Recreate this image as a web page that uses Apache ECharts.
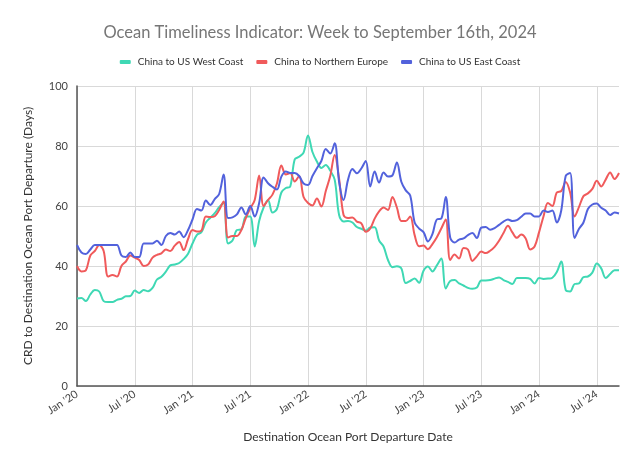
<!DOCTYPE html>
<html>
<head>
<meta charset="utf-8">
<script src="https://cdn.jsdelivr.net/npm/echarts@6/dist/echarts.min.js"></script>
<style>
  html, body { margin: 0; padding: 0; background: #fff; }
  #chart { width: 640px; height: 468px; }
</style>
</head>
<body>
<div id="chart"></div>
<script>
// fortnightly points, first one on 6 Jan 2020
const startDate = Date.UTC(2020, 0, 6);
const pointCount = 123;
const monthNames = ["Jan", "Feb", "Mar", "Apr", "May", "Jun", "Jul", "Aug", "Sep", "Oct", "Nov", "Dec"];
const labelMonths = [0, 6];

const yTicks = { min: 0, max: 100, interval: 20 };

const seriesNames = ["China to US West Coast", "China to Northern Europe", "China to US East Coast"];

const westCoast = [
  29.2, 29.3, 28.3, 30.5, 32, 31.5, 28.3, 28, 28, 28.7,
  29.1, 29.9, 30, 31.8, 31, 32, 31.6, 32.7, 35.5, 36.4,
  38.1, 40.2, 40.5, 41, 42.3, 44.1, 47.5, 50.4, 51.3, 54.5,
  56.1, 57.6, 59.6, 61, 47.5, 48.5, 52, 52.2, 56.5, 56.5,
  46.5, 55, 59.5, 62, 57.8, 59, 64.5, 66, 66.5, 75.5,
  76.4, 77.8, 83.5, 78, 74.8, 72.7, 73.7, 71.8, 68.8, 57,
  54.8, 55, 54.5, 53, 52.4, 51.8, 52.8, 52.9, 48.5, 46.5,
  42, 39.6, 39.9, 39.2, 34.3, 35, 35.8, 34.4, 38.4, 39.8,
  38.2, 40.2, 42.5, 32.5, 35, 35.3, 34.2, 33.5, 32.7, 32.4,
  32.8, 35.2, 35.2, 35.3, 35.8, 36.2, 35.3, 34.7, 34, 36,
  36, 36, 35.7, 34.2, 36, 35.7, 35.8, 36.1, 38, 41.5,
  32, 31.5, 34, 34.2, 36.3, 36.5, 37.8, 40.8, 39.2, 36,
  37.3, 38.6, 38.6
];

const northernEurope = [
  40, 38.2, 38.6, 43.5, 45, 47, 45, 36.5, 37, 36.5,
  40, 41.5, 43.5, 42.8, 42, 40, 40.5, 42.8, 43.7, 44.2,
  45.5, 45, 46.8, 48, 45.3, 49, 52, 51.5, 51.8, 56.5,
  56.3, 56.6, 58.7, 61.5, 49.5, 50, 50, 52, 56, 59.2,
  62, 70.2, 60, 62, 63.8, 67.5, 73.5, 70.5, 71, 68.2,
  70, 63, 61, 60.2, 62.5, 59.8, 65, 70, 77, 69,
  57, 56, 56.2, 54.8, 54.2, 51.4, 52.5, 55.8, 58.2, 59.5,
  58.7, 63, 59.5, 55, 55, 56.5, 50.3, 46.6, 46.8, 45.6,
  47.3, 49.6, 52.5, 55.5, 42, 43.8, 42.5, 46, 45.5, 41.7,
  43.2, 44.8, 44.3, 45.1, 46.4, 48.4, 51, 53.4, 51.2, 49.4,
  50.5, 49.2, 45.5, 46.5, 51.2, 56.5, 61, 60, 64.5, 65,
  68, 64.5, 56.5, 59.7, 63.3, 64.2, 65.7, 68.4, 66.5, 68.8,
  71.2, 69, 71
];

const eastCoast = [
  47, 44.5, 44, 45.5, 47, 47, 47, 47, 47, 47,
  43.5, 43, 44.5, 43, 43, 47.5, 47.5, 47.5, 48.4, 47,
  50, 51, 50.5, 51.5, 49.6, 52, 55.5, 59, 58.5, 61.8,
  60.3, 62.3, 64, 70.5, 56, 56.2, 57.2, 59.5, 57.2, 60,
  56.5, 61, 69.5, 67.6, 66.4, 65.5, 69.8, 71.5, 71, 71,
  70, 67.5, 67, 70, 72.6, 75, 79, 77.5, 80.9, 68,
  62, 68.7, 72.3, 70.9, 72.5, 75, 66.5, 71.5, 67.8, 71.2,
  69.8, 70.2, 74.5, 68.1, 65.2, 63.5, 54.5, 52.5, 51.3, 48.2,
  50.6, 55.5, 55.8, 63, 49.5, 47.8, 48.8, 49.2, 50.3, 51,
  49.3, 52.8, 53, 52.1, 52.6, 53.7, 54.8, 55.5, 55, 55.3,
  56.4, 57.5, 57.5, 56.5, 56.5, 58.5, 58, 58.5, 54.5, 58.5,
  70, 71, 49.3, 52.4, 54.5, 59, 60.5, 60.8, 59.4, 58.5,
  57, 57.8, 57.5
];

const colors = ["#3FD8B4", "#F05A5B", "#5262DC"];

const dates = [];
for (let i = 0; i < pointCount; i++) {
  dates.push(new Date(startDate + i * 14 * 86400000).toISOString().slice(0, 10));
}

// label / gridline only on the first point of Jan and Jul
function isHalfYearStart(index) {
  const m = Number(dates[index].slice(5, 7)) - 1;
  if (labelMonths.indexOf(m) < 0) return false;
  if (index === 0) return true;
  return Number(dates[index - 1].slice(5, 7)) - 1 !== m;
}

const fontName = "Lato";
const chart = echarts.init(document.getElementById("chart"));

chart.setOption({
  animation: false,
  color: colors,
  textStyle: { fontFamily: fontName },
  title: {
    text: "Ocean Timeliness Indicator: Week to September 16th, 2024",
    left: "center",
    top: 19,
    textStyle: { fontFamily: fontName, fontSize: 16.5, fontWeight: "normal", color: "#767676" }
  },
  legend: {
    top: 52,
    left: "center",
    itemWidth: 11,
    itemHeight: 4,
    itemGap: 13,
    icon: "roundRect",
    textStyle: { fontFamily: fontName, fontSize: 10, color: "#333", padding: [0, 0, 0, 2] },
    data: seriesNames
  },
  grid: { left: 77, right: 21, top: 86, bottom: 82, containLabel: false },
  xAxis: {
    type: "category",
    data: dates,
    boundaryGap: false,
    name: "Destination Ocean Port Departure Date",
    nameLocation: "middle",
    nameGap: 45,
    nameTextStyle: { fontFamily: fontName, fontSize: 12, color: "#333" },
    axisLine: { lineStyle: { color: "#555", width: 1.5 } },
    axisTick: { show: false },
    axisLabel: {
      interval: isHalfYearStart,
      rotate: 33,
      fontSize: 11,
      color: "#444",
      margin: 7,
      formatter: function (v) {
        return monthNames[Number(v.slice(5, 7)) - 1] + " '" + v.slice(2, 4);
      }
    },
    splitLine: { show: true, interval: isHalfYearStart, lineStyle: { color: "#d9d9d9", width: 1 } }
  },
  yAxis: {
    type: "value",
    min: yTicks.min,
    max: yTicks.max,
    interval: yTicks.interval,
    name: "CRD to Destination Ocean Port Departure (Days)",
    nameLocation: "middle",
    nameGap: 43,
    nameTextStyle: { fontFamily: fontName, fontSize: 12, color: "#333" },
    axisLine: { show: true, lineStyle: { color: "#555", width: 1.5 } },
    axisTick: { show: false },
    axisLabel: { fontSize: 11, color: "#444", margin: 9 },
    splitLine: { lineStyle: { color: "#d9d9d9", width: 1 } }
  },
  series: [
    { name: seriesNames[0], type: "line", data: westCoast, smooth: 0.35, showSymbol: false, lineStyle: { width: 2 } },
    { name: seriesNames[1], type: "line", data: northernEurope, smooth: 0.35, showSymbol: false, lineStyle: { width: 2 } },
    { name: seriesNames[2], type: "line", data: eastCoast, smooth: 0.35, showSymbol: false, lineStyle: { width: 2 } }
  ]
});
</script>
</body>
</html>
